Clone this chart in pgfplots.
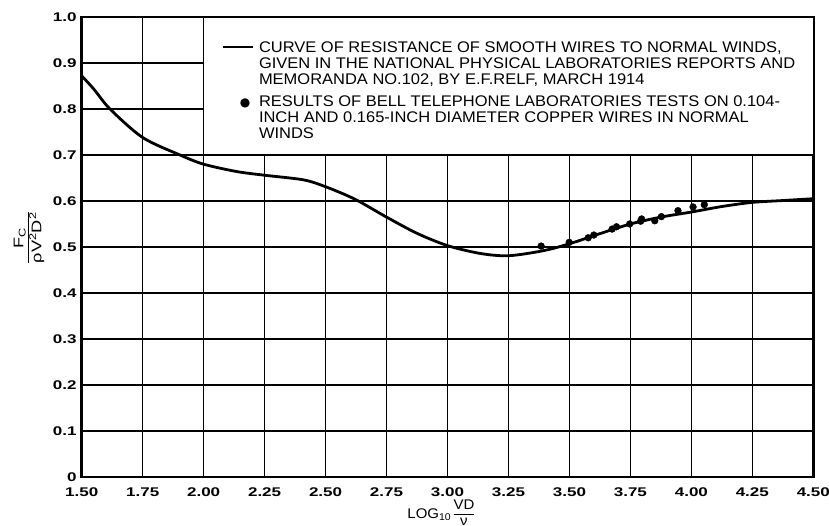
\documentclass[border=0pt]{standalone}
\usepackage{pgfplots}
\pgfplotsset{compat=1.18}
\usepackage{fontspec}
\setmainfont{Liberation Sans}
\newfontfamily\lett[FakeStretch=1.07]{Liberation Sans}
\newfontfamily\ylf[FakeStretch=1.3]{Liberation Sans}
\newfontfamily\tickf[FakeStretch=1.35]{Liberation Sans}
\newfontfamily\dejavu{DejaVu Sans}

\begin{document}
\begin{tikzpicture}
\begin{axis}[
  scale only axis, width=731.6bp, height=460bp,
  xmin=1.5, xmax=4.5, ymin=0, ymax=1,
  xtick={1.5,1.75,2,2.25,2.5,2.75,3,3.25,3.5,3.75,4,4.25,4.5},
  xticklabels={1.50,1.75,2.00,2.25,2.50,2.75,3.00,3.25,3.50,3.75,4.00,4.25,4.50},
  ytick={0,0.1,0.2,0.3,0.4,0.5,0.6,0.7,0.8,0.9,1.0},
  yticklabels={0,0.1,0.2,0.3,0.4,0.5,0.6,0.7,0.8,0.9,1.0},
  grid=major,
  major grid style={black, line width=1.5bp},
  axis line style={black, line width=2.4bp},
  major tick length=0pt,
  ticklabel style={font=\fontsize{12.6bp}{14bp}\tickf\bfseries},
  xticklabel style={inner sep=0pt, yshift=-11bp},
  yticklabel style={inner sep=0pt, xshift=-5bp},
  xlabel={\fontsize{14bp}{15bp}\lett LOG\textsubscript{10}\,$\vcenter{\hbox{\lett\fontsize{14bp}{15bp}\selectfont\setlength{\arrayrulewidth}{1.2bp}\begin{tabular}{@{}c@{}}VD\\\hline ν\end{tabular}}}$},
  xlabel style={at={(rel axis cs:0.491,0)}, anchor=north, yshift=-22bp, inner sep=0pt},
  ylabel={\fontsize{14bp}{15bp}\selectfont\ylf\setlength{\arrayrulewidth}{1.3bp}\begin{tabular}{@{}c@{}}F\textsubscript{C}\\\hline ρV\textsuperscript{2}D\textsuperscript{2}\end{tabular}},
  ylabel style={at={(rel axis cs:-0.0488,0.52)}, anchor=south, inner sep=0pt},
]
\draw[fill=white, line width=1.5bp] (axis cs:2,0.7) rectangle (axis cs:4.5,1);

\addplot[black, line width=2.8bp, smooth, tension=0.5]
coordinates {
(1.5,0.872) (1.55,0.843) (1.616,0.800) (1.75,0.738) (1.903,0.700) (2.0,0.680)
(2.136,0.664) (2.25,0.656) (2.409,0.646) (2.5,0.631) (2.62,0.604) (2.75,0.565)
(2.874,0.530) (3.0,0.503) (3.134,0.486) (3.25,0.481) (3.393,0.492) (3.5,0.507)
(3.625,0.529) (3.75,0.550) (3.875,0.565) (4.0,0.576) (4.125,0.588) (4.25,0.597)
(4.375,0.601) (4.5,0.605)
};

\addplot[only marks, mark=*, mark size=3.4bp, black]
coordinates {
(3.384,0.502) (3.499,0.510) (3.577,0.520) (3.600,0.526) (3.675,0.539) (3.693,0.544)
(3.747,0.550) (3.792,0.556) (3.796,0.561) (3.850,0.557) (3.877,0.566) (3.945,0.579)
(4.007,0.587) (4.053,0.592)
};

\node[anchor=north west, inner sep=0pt, outer sep=0pt, xshift=141bp, yshift=-24.6bp]
  at (rel axis cs:0,1) {\lett\fontsize{15.4bp}{15.8bp}\selectfont
  \begin{tabular}[t]{@{}p{30.6bp}@{\hspace{5.7bp}}l@{}}
  \rule[4.3bp]{30.6bp}{2.4bp} & CURVE OF RESISTANCE OF SMOOTH WIRES TO NORMAL WINDS,\\
  & GIVEN IN THE NATIONAL PHYSICAL LABORATORIES REPORTS AND\\
  & MEMORANDA NO.102, BY E.F.RELF, MARCH 1914\\[6.9bp]
  \hspace*{22.3bp}\makebox[0pt][c]{\dejavu\fontsize{12bp}{12bp}\selectfont ●} & RESULTS OF BELL TELEPHONE LABORATORIES TESTS ON 0.104-\\
  & INCH AND 0.165-INCH DIAMETER COPPER WIRES IN NORMAL\\
  & WINDS
  \end{tabular}};
\end{axis}
\pgfresetboundingbox
\path[use as bounding box] (-81.7bp,-49bp) rectangle (747.3bp,477bp);
\end{tikzpicture}
\end{document}
